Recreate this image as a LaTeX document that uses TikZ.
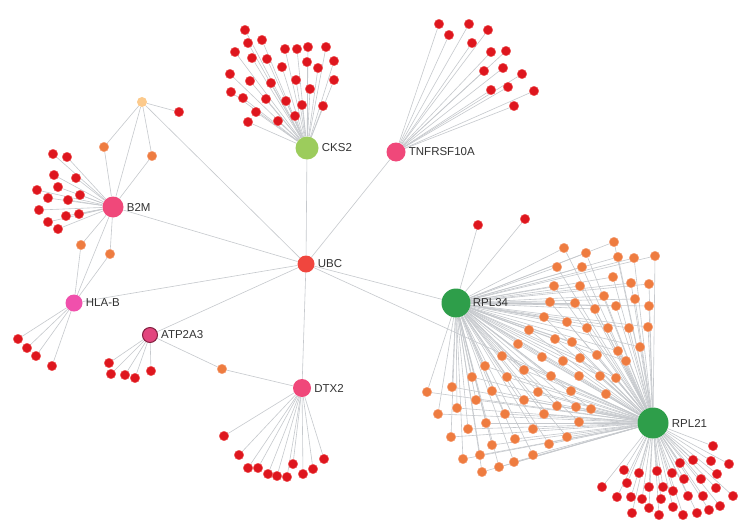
\documentclass[tikz,border=0pt]{standalone}
\usepackage{fontspec}
\setmainfont{Liberation Sans}
\pgfdeclarelayer{bg}
\pgfsetlayers{bg,main}
\definecolor{edgec}{RGB}{198,201,205}
\definecolor{leafred}{RGB}{222,22,30}
\definecolor{leafrim}{RGB}{240,90,90}
\definecolor{orng}{RGB}{238,124,64}
\definecolor{orngrim}{RGB}{246,160,120}
\definecolor{yel}{RGB}{252,202,140}
\definecolor{ubcc}{RGB}{240,70,62}
\definecolor{cksc}{RGB}{156,204,92}
\definecolor{pinkc}{RGB}{240,72,122}
\definecolor{hlac}{RGB}{240,80,172}
\definecolor{atpc}{RGB}{226,70,126}
\definecolor{atprim}{RGB}{130,32,64}
\definecolor{greenc}{RGB}{46,158,74}
\definecolor{labc}{RGB}{51,51,51}
\tikzset{
  leaf/.style={circle, fill=leafred, draw=leafrim, line width=0.4pt, inner sep=0pt, minimum size=9.5pt},
  onode/.style={circle, fill=orng, draw=orngrim, line width=0.4pt, inner sep=0pt, minimum size=9.5pt},
  hub/.style={circle, inner sep=0pt, draw=none},
  lab/.style={font=\fontsize{11.5}{13}\selectfont, text=labc, anchor=west, inner sep=0pt},
  edge/.style={draw=edgec, line width=0.6pt},
}
\begin{document}
\begin{tikzpicture}[x=1pt,y=-1pt]
\useasboundingbox (0,0) rectangle (746,530);
% hubs
\node[hub, fill=ubcc, minimum size=17pt] (UBC) at (306,264) {};
\node[hub, fill=cksc, minimum size=23pt] (CKS2) at (307,148) {};
\node[hub, fill=pinkc, minimum size=19pt] (TNF) at (396,152) {};
\node[hub, fill=pinkc, minimum size=21pt] (B2M) at (113,207) {};
\node[hub, fill=hlac, minimum size=17pt] (HLAB) at (74,303) {};
\node[hub, fill=atpc, draw=atprim, line width=1pt, minimum size=15pt] (ATP) at (150,335) {};
\node[hub, fill=pinkc, minimum size=18pt] (DTX2) at (302,388) {};
\node[hub, fill=greenc, minimum size=29pt] (RPL34) at (456,303) {};
\node[hub, fill=greenc, minimum size=31pt] (RPL21) at (653,423) {};
% labels
\node[lab] (lUBC) at ([xshift=3pt]UBC.east) {UBC};
\node[lab] (lCKS2) at ([xshift=3pt]CKS2.east) {CKS2};
\node[lab] (lTNF) at ([xshift=3pt]TNF.east) {TNFRSF10A};
\node[lab] (lB2M) at ([xshift=3pt]B2M.east) {B2M};
\node[lab] (lHLAB) at ([xshift=3pt]HLAB.east) {HLA-B};
\node[lab] (lATP) at ([xshift=3pt]ATP.east) {ATP2A3};
\node[lab] (lDTX2) at ([xshift=3pt]DTX2.east) {DTX2};
\node[lab] (lRPL34) at ([xshift=2pt]RPL34.east) {RPL34};
\node[lab] (lRPL21) at ([xshift=3pt]RPL21.east) {RPL21};
% intermediate nodes
\node[circle, fill=yel, inner sep=0pt, minimum size=10pt] (Y) at (142,102) {};
\node[leaf] (yr) at (179,112) {};
\node[onode] (o1) at (104,147) {};
\node[onode] (o2) at (152,156) {};
\node[onode] (o3) at (81,245) {};
\node[onode] (o4) at (110,254) {};
\node[onode] (o5) at (222,369) {};
% leaves
\foreach \x/\y [count=\i] in {245/30,248/43,262/40,235/52,252/58,267/59,285/49,297/49,308/47,326/47,307/62,334/61,318/68,282/67,230/74,250/81,271/83,296/80,334/80,231/92,243/98,266/99,310/89,286/101,302/105,323/106,256/112,248/122,278/121,295/116}
  \node[leaf] (ck\i) at (\x,\y) {};
\foreach \x/\y [count=\i] in {439/24,469/24,449/35,488/30,472/43,491/52,506/51,484/71,503/68,522/74,491/90,508/87,534/91,514/106}
  \node[leaf] (tn\i) at (\x,\y) {};
\foreach \x/\y [count=\i] in {53/154,67/157,54/175,76/178,37/190,58/187,48/198,68/200,80/195,39/210,66/216,79/214,48/222,58/229}
  \node[leaf] (bm\i) at (\x,\y) {};
\foreach \x/\y [count=\i] in {18/339,27/348,36/356,52/366}
  \node[leaf] (hl\i) at (\x,\y) {};
\foreach \x/\y [count=\i] in {109/363,111/374,125/375,135/378,151/371}
  \node[leaf] (at\i) at (\x,\y) {};
\foreach \x/\y [count=\i] in {224/436,239/455,248/468,258/468,268/474,277/476,287/477,293/464,303/474,313/469,324/459}
  \node[leaf] (dx\i) at (\x,\y) {};
\foreach \x/\y [count=\i] in {478/225,525/219}
  \node[leaf] (rp\i) at (\x,\y) {};
\foreach \x/\y [count=\i] in {713/446,693/460,711/461,729/464,680/463,624/470,639/473,657/471,672/473,717/474,684/479,701/479,602/487,627/483,649/487,663/487,673/491,716/488,617/497,631/497,642/499,661/499,688/496,703/496,733/496,649/508,673/507,709/510,720/506,632/513,659/515,683/515,697/513}
  \node[leaf] (rq\i) at (\x,\y) {};
\foreach \x/\y [count=\i] in {564/248,614/242,586/253,618/257,634/258,655/256,557/267,582/267,613/277,631/283,649/284,554/286,580/286,604/296,550/302,575/303,616/306,635/299,649/306,595/309,544/317,567/322,587/328,608/328,629/328,648/327,529/330,518/344,555/339,572/342,640/347,618/351,597/355,502/356,542/357,563/361,580/358,626/361,485/366,524/370,472/377,507/377,551/376,579/376,600/376,616/378,452/387,427/392,492/391,538/392,571/391,606/394,476/400,524/400,457/408,438/414,505/414,544/414,557/406,576/407,591/409,486/423,468/429,533/429,579/422,451/437,515/439,567/437,492/445,549/444,480/455,463/459,533/455,499/467,514/462,482/472}
  \node[onode] (sh\i) at (\x,\y) {};
% edges
\begin{pgfonlayer}{bg}
\fill[white] (0,0) rectangle (746,530);
\foreach \t in {CKS2,TNF,B2M,HLAB,ATP,DTX2,RPL34,RPL21,Y}
  \draw[edge] (UBC) -- (\t);
\draw[edge] (Y) -- (yr);
\draw[edge] (Y) -- (o1) -- (B2M);
\draw[edge] (Y) -- (B2M);
\draw[edge] (Y) -- (o2) -- (B2M);
\draw[edge] (B2M) -- (o3) -- (HLAB);
\draw[edge] (B2M) -- (o4) -- (HLAB);
\draw[edge] (B2M) -- (HLAB);
\draw[edge] (ATP) -- (o5) -- (DTX2);
\foreach \i in {1,...,30} \draw[edge] (CKS2) -- (ck\i);
\foreach \i in {1,...,14} \draw[edge] (TNF) -- (tn\i);
\foreach \i in {1,...,14} \draw[edge] (B2M) -- (bm\i);
\foreach \i in {1,...,4} \draw[edge] (HLAB) -- (hl\i);
\foreach \i in {1,...,5} \draw[edge] (ATP) -- (at\i);
\foreach \i in {1,...,11} \draw[edge] (DTX2) -- (dx\i);
\foreach \i in {1,2} \draw[edge] (RPL34) -- (rp\i);
\foreach \i in {1,...,33} \draw[edge] (RPL21) -- (rq\i);
\foreach \i in {1,...,76} {
  \draw[edge] (RPL34) -- (sh\i);
  \draw[edge] (RPL21) -- (sh\i);
}
\end{pgfonlayer}
\end{tikzpicture}
\end{document}
